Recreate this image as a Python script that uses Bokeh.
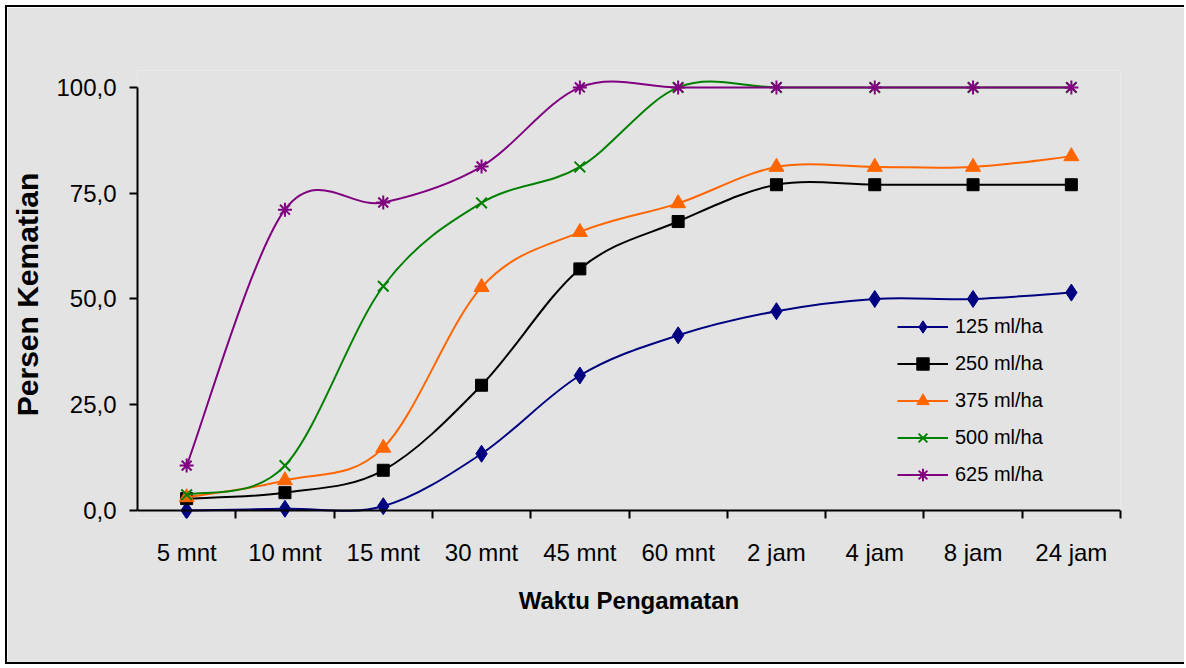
from bokeh.plotting import figure
from bokeh.models import (ColumnDataSource, Range1d, FixedTicker, Legend,
                          LegendItem, Span)
from bokeh.embed import file_html
from bokeh.resources import INLINE

# --- data -----------------------------------------------------------------
categories = ["5 mnt", "10 mnt", "15 mnt", "30 mnt", "45 mnt",
              "60 mnt", "2 jam", "4 jam", "8 jam", "24 jam"]
y_ticks = [0, 25, 50, 75, 100]
y_tick_labels = ["0,0", "25,0", "50,0", "75,0", "100,0"]

series_names = ["125 ml/ha", "250 ml/ha", "375 ml/ha", "500 ml/ha", "625 ml/ha"]
dose_125 = [0.0, 0.4, 1.0, 13.4, 31.9, 41.4, 47.1, 50.0, 50.0, 51.5]
dose_250 = [2.8, 4.2, 9.5, 29.6, 57.1, 68.3, 77.0, 77.0, 77.0, 77.0]
dose_375 = [3.1, 7.1, 14.8, 52.8, 65.8, 72.6, 81.2, 81.2, 81.2, 83.7]
dose_500 = [3.7, 10.6, 53.0, 72.7, 81.2, 100.0, 100.0, 100.0, 100.0, 100.0]
dose_625 = [10.6, 71.1, 72.8, 81.3, 100.0, 100.0, 100.0, 100.0, 100.0, 100.0]

# --- styles ---------------------------------------------------------------
BG = "#E3E3E3"
FONT = "Liberation Sans"
styles = [
    dict(color="#000080", marker="diamond", size=17, lw=1),
    dict(color="#000000", marker="square", size=12, lw=1),
    dict(color="#FF6600", marker="triangle", size=15, lw=1),
    dict(color="#008000", marker="x", size=15, lw=2),
    dict(color="#800080", marker="asterisk", size=14, lw=2),
]

# the y range dips slightly below zero so markers sitting on 0 stay whole
p = figure(width=1179, height=659, output_backend="svg", toolbar_location=None,
           x_range=Range1d(-0.5, 9.5), y_range=Range1d(-1.9, 104),
           min_border_left=130, min_border_right=66,
           min_border_top=63, min_border_bottom=148)
p.styles = {"margin-left": "5px", "margin-top": "5px",
            "border-left": "2px solid black", "border-top": "2px solid black",
            "border-bottom": "2px solid black"}
p.background_fill_color = BG
p.border_fill_color = BG
p.outline_line_color = None
p.xgrid.visible = False
p.ygrid.visible = False


def smooth_segments(xs, ys):
    """Cubic Bezier pieces (Catmull-Rom style) through the given points."""
    n = len(xs)
    seg = dict(x0=[], y0=[], x1=[], y1=[], cx0=[], cy0=[], cx1=[], cy1=[])
    for i in range(n - 1):
        xa, ya = (xs[i - 1], ys[i - 1]) if i > 0 else (xs[i], ys[i])
        xd, yd = (xs[i + 2], ys[i + 2]) if i + 2 < n else (xs[i + 1], ys[i + 1])
        seg["x0"].append(xs[i]); seg["y0"].append(ys[i])
        seg["x1"].append(xs[i + 1]); seg["y1"].append(ys[i + 1])
        seg["cx0"].append(xs[i] + (xs[i + 1] - xa) / 6)
        seg["cy0"].append(ys[i] + (ys[i + 1] - ya) / 6)
        seg["cx1"].append(xs[i + 1] - (xd - xs[i]) / 6)
        seg["cy1"].append(ys[i + 1] - (yd - ys[i]) / 6)
    return seg


# horizontal axis line at y = 0
p.add_layout(Span(location=0, dimension="width", line_color="black",
                  line_width=2))

xpos = list(range(len(categories)))
items = []
for name, vals, st in zip(series_names,
                          [dose_125, dose_250, dose_375, dose_500, dose_625],
                          styles):
    curve = p.bezier(x0="x0", y0="y0", x1="x1", y1="y1",
                     cx0="cx0", cy0="cy0", cx1="cx1", cy1="cy1",
                     source=ColumnDataSource(smooth_segments(xpos, vals)),
                     line_color=st["color"], line_width=2)
    pts = p.scatter(x=xpos, y=vals, marker=st["marker"], size=st["size"],
                    fill_color=st["color"], line_color=st["color"],
                    line_width=st["lw"])
    items.append(LegendItem(label=name, renderers=[curve, pts]))

# --- axes -----------------------------------------------------------------
xa = p.xaxis[0]
xa.ticker = FixedTicker(ticks=xpos, minor_ticks=[i + 0.5 for i in xpos])
xa.major_label_overrides = {i: c for i, c in zip(xpos, categories)}
xa.axis_line_color = None
xa.major_tick_line_color = None
xa.major_tick_out = 0
xa.major_tick_in = 0
xa.minor_tick_out = 0
xa.minor_tick_in = 8
xa.minor_tick_line_color = "black"
xa.minor_tick_line_width = 2
xa.major_label_text_font = FONT
xa.major_label_text_font_size = "24px"
xa.major_label_text_color = "black"
xa.major_label_standoff = 20
xa.axis_label = "Waktu Pengamatan"
xa.axis_label_text_font = FONT
xa.axis_label_text_font_style = "bold"
xa.axis_label_text_font_size = "24px"
xa.axis_label_text_color = "black"
xa.axis_label_standoff = 18

ya = p.yaxis[0]
ya.bounds = (0, 100)
ya.ticker = FixedTicker(ticks=y_ticks, minor_ticks=[])
ya.major_label_overrides = {t: s for t, s in zip(y_ticks, y_tick_labels)}
ya.major_tick_out = 8
ya.major_tick_in = 0
ya.major_tick_line_width = 2
ya.axis_line_width = 2
ya.axis_line_color = "black"
ya.major_label_text_font = FONT
ya.major_label_text_font_size = "24px"
ya.major_label_text_color = "black"
ya.major_label_standoff = 13
ya.axis_label = "Persen Kematian"
ya.axis_label_text_font = FONT
ya.axis_label_text_font_style = "bold"
ya.axis_label_text_font_size = "30px"
ya.axis_label_text_color = "black"
ya.axis_label_standoff = 9

legend = Legend(items=items, location=(760, 28))
legend.border_line_color = None
legend.background_fill_alpha = 0
legend.padding = 0
legend.margin = 0
legend.spacing = 6
legend.glyph_width = 51
legend.glyph_height = 31
legend.label_height = 31
legend.label_standoff = 7
legend.label_text_font = FONT
legend.label_text_font_size = "20px"
legend.label_text_color = "black"
p.add_layout(legend, "center")

open("out.html", "w").write(file_html(p, INLINE))
